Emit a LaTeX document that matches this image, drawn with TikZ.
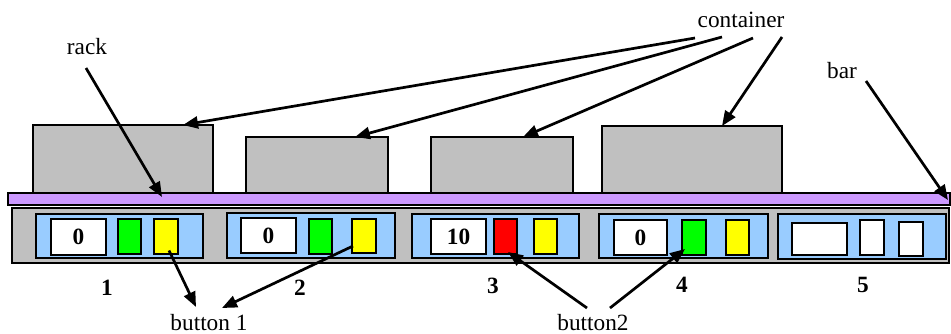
\documentclass[tikz,border=0pt]{standalone}
\usepackage{fontspec}
\setmainfont{Liberation Serif}
\usetikzlibrary{arrows.meta,calc}
\definecolor{contgray}{HTML}{C0C0C0}
\definecolor{barpurple}{HTML}{CC99FF}
\definecolor{panelblue}{HTML}{99CCFF}
\definecolor{btngreen}{HTML}{00FF00}
\definecolor{btnyellow}{HTML}{FFFF00}
\definecolor{btnred}{HTML}{FF0000}
\tikzset{
  box/.style={draw=black, inner sep=0pt, outer sep=0pt},
  contbox/.style={box, fill=contgray, line width=1.4pt},
  rackbox/.style={box, fill=contgray, line width=2pt},
  barbox/.style={box, fill=barpurple, line width=2pt},
  panelbox/.style={box, fill=panelblue, line width=2pt},
  dispbox/.style={box, fill=white, line width=2pt, font=\fontsize{23.3}{26}\selectfont\bfseries},
  btnbox/.style={box, line width=2pt},
  lbl/.style={inner sep=0pt, font=\fontsize{23.3}{26}\selectfont},
  baselbl/.style={lbl, anchor=base, text depth=0pt},
  numlbl/.style={inner sep=0pt, font=\fontsize{23.3}{26}\selectfont\bfseries},
  arr/.style={-{Triangle[length=15pt,width=12pt]}, line width=2.7pt},
}
\begin{document}
\begin{tikzpicture}[x=1pt,y=-1pt]
\useasboundingbox (0,0) rectangle (951,333);
% rack
\node[rackbox, minimum width=937pt, minimum height=55pt] (rack) at (480.5,235.5) {};
% panels
\node[panelbox, minimum width=167pt, minimum height=44pt] (p1) at (119.5,236) {};
\node[panelbox, minimum width=168pt, minimum height=45pt] (p2) at (311,235.5) {};
\node[panelbox, minimum width=167pt, minimum height=44pt] (p3) at (495.5,236) {};
\node[panelbox, minimum width=169pt, minimum height=44pt] (p4) at (683.5,236) {};
\node[panelbox, minimum width=168pt, minimum height=45pt] (p5) at (862,236.5) {};
% panel 1
\node[dispbox, minimum width=55pt, minimum height=36pt] (w1) at (78.5,237) {0};
\node[btnbox, fill=btngreen, minimum width=23pt, minimum height=35pt] (g1) at (129.5,236.5) {};
\node[btnbox, fill=btnyellow, minimum width=24pt, minimum height=35pt] (y1) at (166,236.5) {};
% panel 2
\node[dispbox, minimum width=55pt, minimum height=35pt] (w2) at (268.5,235.5) {0};
\node[btnbox, fill=btngreen, minimum width=23pt, minimum height=35pt] (g2) at (320.5,236) {};
\node[btnbox, fill=btnyellow, minimum width=24pt, minimum height=34pt] (y2) at (364,236) {};
% panel 3
\node[dispbox, minimum width=55pt, minimum height=35pt] (w3) at (458.5,236.5) {10};
\node[btnbox, fill=btnred, minimum width=23pt, minimum height=35pt] (r3) at (505.5,236.5) {};
\node[btnbox, fill=btnyellow, minimum width=23pt, minimum height=35pt] (y3) at (545.5,236.5) {};
% panel 4
\node[dispbox, minimum width=53pt, minimum height=35pt] (w4) at (640.5,237.5) {0};
\node[btnbox, fill=btngreen, minimum width=24pt, minimum height=35pt] (g4) at (694,237.5) {};
\node[btnbox, fill=btnyellow, minimum width=23pt, minimum height=35pt] (y4) at (737.5,237.5) {};
% panel 5
\node[btnbox, fill=white, minimum width=55pt, minimum height=32pt] (e1) at (819.5,239) {};
\node[btnbox, fill=white, minimum width=24pt, minimum height=35pt] (e2) at (872,237.5) {};
\node[btnbox, fill=white, minimum width=24pt, minimum height=34pt] (e3) at (911,239) {};
% containers
\node[contbox, minimum width=180pt, minimum height=68pt] (c1) at (123,159) {};
\node[contbox, minimum width=142pt, minimum height=56pt] (c2) at (317,165) {};
\node[contbox, minimum width=142pt, minimum height=56pt] (c3) at (502,165) {};
\node[contbox, minimum width=180pt, minimum height=67pt] (c4) at (692,159.5) {};
% bar
\node[barbox, minimum width=942pt, minimum height=12pt] (bar) at (479,199) {};
% number labels
\node[numlbl] (n1) at (107,288) {1};
\node[numlbl] (n2) at (300,288) {2};
\node[numlbl] (n3) at (493,286) {3};
\node[numlbl] (n4) at (682,285) {4};
\node[numlbl] (n5) at (863,285) {5};
% text labels
\node[lbl] (lrack) at (87,47) {rack};
\node[lbl] (lcont) at (741,20) {container};
\node[lbl] (lbar) at (842,71) {bar};
\node[baselbl] (lb1) at (209,330) {button 1};
\node[baselbl] (lb2) at (593,330) {button2};
% arrows
\draw[arr] ($(lrack.center)+(-1,21)$) -- ($(bar.center)+(-317,-2)$);
\draw[arr] ($(lcont.center)+(-46,18)$) -- ([xshift=60pt]c1.north);
\draw[arr] ($(lcont.center)+(-19,17)$) -- ([xshift=38pt]c2.north);
\draw[arr] ($(lcont.center)+(12,18)$) -- ([xshift=21pt]c3.north);
\draw[arr] ($(lcont.center)+(41,17)$) -- ([xshift=30pt]c4.north);
\draw[arr] ($(lbar.center)+(24,10)$) -- ($(bar.east)+(-2,1)$);
\draw[arr] ($(y1.center)+(3,14)$) -- ($(lb1.base)+(-13,-23)$);
\draw[arr] ($(y2.center)+(-11,10)$) -- ($(lb1.base)+(13,-22)$);
\draw[arr] ($(lb2.base)+(-6,-22)$) -- ($(r3.south)+(2.5,-2)$);
\draw[arr] ($(lb2.base)+(17,-22)$) -- ($(g4.center)+(-9,11.5)$);
\end{tikzpicture}
\end{document}
